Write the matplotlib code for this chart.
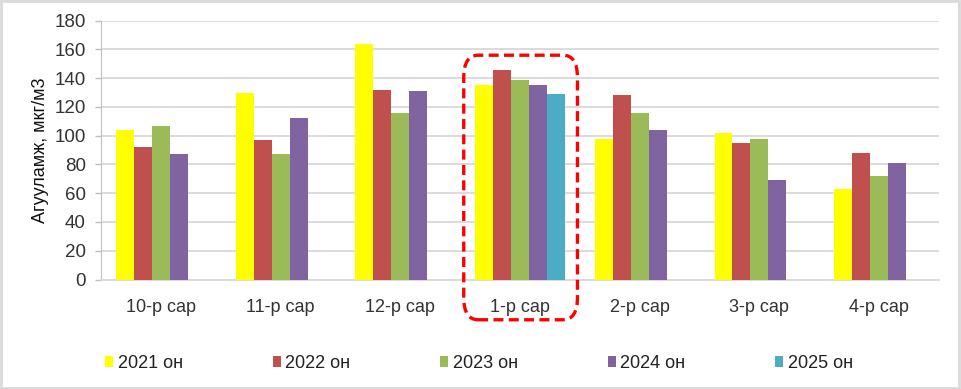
import numpy as np
import matplotlib.pyplot as plt
from matplotlib.patches import FancyBboxPatch, Rectangle

plt.rcParams['font.family'] = ['Liberation Sans', 'DejaVu Sans']

# DATA
months = ['10-р сар', '11-р сар', '12-р сар', '1-р сар', '2-р сар', '3-р сар', '4-р сар']
years = ['2021 он', '2022 он', '2023 он', '2024 он', '2025 он']
v2021 = [104, 130, 164, 135, 98, 102, 63]
v2022 = [92, 97, 132, 146, 128, 95, 88]
v2023 = [107, 87, 116, 139, 116, 98, 72]
v2024 = [87, 112, 131, 135, 104, 69, 81]
v2025 = [None, None, None, 129, None, None, None]
colors = ['#ffff00', '#c0504d', '#9bbb59', '#8064a2', '#4bacc6']

series = [v2021, v2022, v2023, v2024, v2025]

fig = plt.figure(figsize=(9.61, 3.89), dpi=100)
ax = fig.add_axes([101/961, 1 - 279.5/389, 838/961, (279.5 - 20.7)/389])

x = np.arange(len(months))
w = 0.15
for i, (vals, c, lab) in enumerate(zip(series, colors, years)):
    xs = [xi + (i - 2) * w for xi, v in zip(x, vals) if v is not None]
    ys = [v for v in vals if v is not None]
    ax.bar(xs, ys, width=w, color=c, label=lab, zorder=3)

ax.set_xlim(-0.5, len(months) - 0.5)
ax.set_ylim(0, 180)
ax.set_yticks(np.arange(0, 181, 20))
ax.set_xticks(x)
ax.set_xticklabels(months, fontsize=13, color='#333333')
ax.tick_params(axis='x', length=0, pad=14)
ax.tick_params(axis='y', labelsize=13.5, colors='#333333', length=4, width=1, color='#bfbfbf', pad=7)
ax.yaxis.grid(True, color='#d9d9d9', linewidth=1.3, zorder=0)
for s in ['top', 'right']:
    ax.spines[s].set_visible(False)
ax.spines['left'].set_color('#bfbfbf')
ax.spines['bottom'].set_color('#d9d9d9')
ax.spines['bottom'].set_linewidth(1.3)
ax.set_ylabel('Агууламж, мкг/м3', fontsize=13, color='#111111', labelpad=4)

# red dashed highlight around 1-р сар
box = FancyBboxPatch((2.53, -28), 0.95, 184, boxstyle='round,pad=0,rounding_size=0.12',
                     mutation_aspect=130, fill=False, edgecolor='#ff0000', linewidth=2.4,
                     linestyle=(0, (3, 1.6)), clip_on=False, zorder=5)
ax.add_patch(box)

leg = fig.legend(loc='center', bbox_to_anchor=(0.4985, 1 - 363/389), ncol=5, frameon=False,
                 fontsize=13, handlelength=0.45, handleheight=0.55, handletextpad=0.25,
                 columnspacing=4.97)
for t in leg.get_texts():
    t.set_color('#222222')

fig.patches.append(Rectangle((0.001, 0.002), 0.997, 0.995, transform=fig.transFigure,
                             fill=False, edgecolor='#d9d9d9', linewidth=2))

fig.savefig('out.png', dpi=100)
